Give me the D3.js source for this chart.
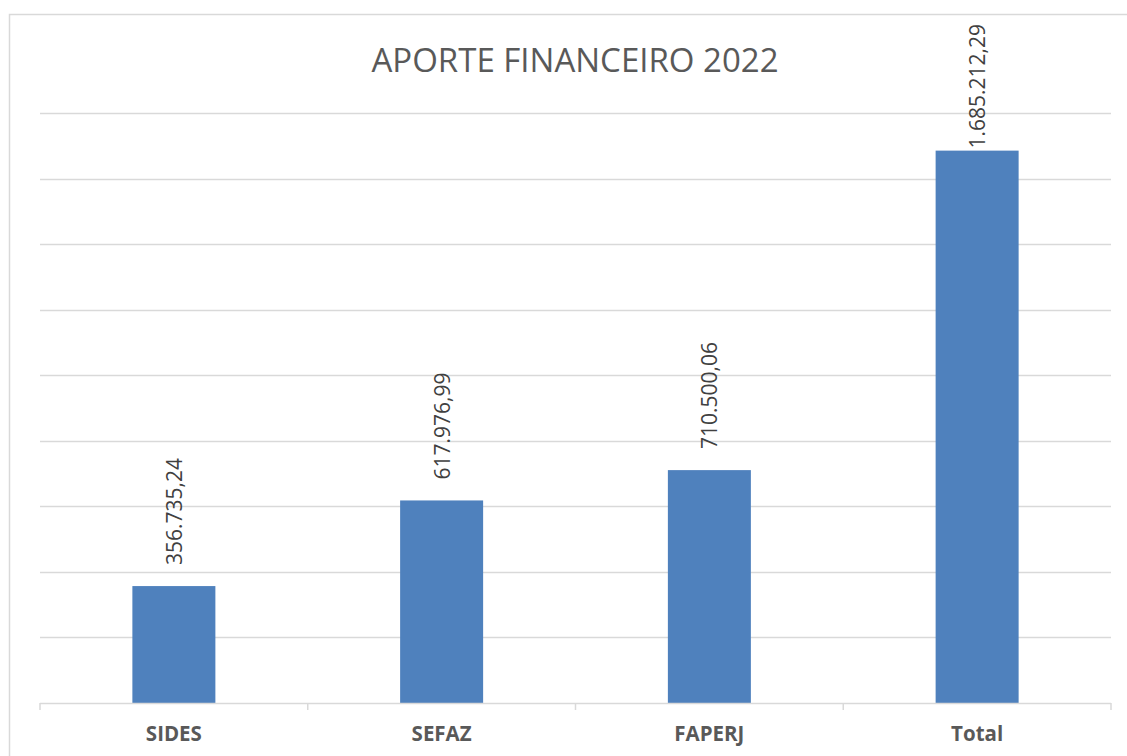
<!DOCTYPE html>
<html lang="pt">
<head>
<meta charset="UTF-8">
<title>Aporte Financeiro 2022</title>
<script src="https://d3js.org/d3.v7.min.js"></script>
<style>
    body { margin: 0; padding: 0; background: #fff; }
    svg { display: block; font-family: 'Open Sans', sans-serif; }
</style>
</head>
<body>
<div id="chart"></div>
<script>
    // data
    const categories = ['SIDES', 'SEFAZ', 'FAPERJ', 'Total'];
    const values = [356735.24, 617976.99, 710500.06, 1685212.29];
    const labels = ['356.735,24', '617.976,99', '710.500,06', '1.685.212,29'];
    const yTicks = [0, 200000, 400000, 600000, 800000, 1000000, 1200000, 1400000, 1600000, 1800000];

    const width = 1127, height = 756;
    const margin = { top: 113, right: 16, bottom: 53, left: 40 };

    const svg = d3.select('#chart').append('svg')
        .attr('width', width)
        .attr('height', height);

    // chart border
    svg.append('rect')
        .attr('x', 9.5).attr('y', 14.5)
        .attr('width', 1140).attr('height', 760)
        .attr('fill', 'none')
        .attr('stroke', '#d9d9d9')
        .attr('stroke-width', 1.5);

    const x = d3.scaleBand()
        .domain(categories)
        .range([margin.left, width - margin.right])
        .paddingInner(0.69)
        .paddingOuter(0.345);

    const y = d3.scaleLinear()
        .domain([0, 1800000])
        .range([height - margin.bottom, margin.top]);

    // gridlines
    svg.append('g')
        .selectAll('line')
        .data(yTicks.slice(1))
        .join('line')
        .attr('x1', margin.left)
        .attr('x2', width - margin.right)
        .attr('y1', d => Math.round(y(d)) + 0.5)
        .attr('y2', d => Math.round(y(d)) + 0.5)
        .attr('stroke', '#d9d9d9')
        .attr('stroke-width', 1.5);

    // bars
    svg.append('g')
        .selectAll('rect')
        .data(values)
        .join('rect')
        .attr('x', (d, i) => x(categories[i]))
        .attr('y', d => y(d))
        .attr('width', x.bandwidth())
        .attr('height', d => y(0) - y(d))
        .attr('fill', '#4f81bd');

    // x axis
    const xAxis = d3.scalePoint().domain(d3.range(categories.length + 1))
        .range([margin.left, width - margin.right]);
    const axisG = svg.append('g');
    axisG.append('line')
        .attr('x1', margin.left).attr('x2', width - margin.right)
        .attr('y1', y(0) + 0.5).attr('y2', y(0) + 0.5)
        .attr('stroke', '#d9d9d9').attr('stroke-width', 1.5);
    axisG.selectAll('line.tick')
        .data(xAxis.domain())
        .join('line')
        .attr('class', 'tick')
        .attr('x1', d => xAxis(d)).attr('x2', d => xAxis(d))
        .attr('y1', y(0)).attr('y2', y(0) + 7)
        .attr('stroke', '#d9d9d9').attr('stroke-width', 1.5);

    svg.append('g')
        .selectAll('text')
        .data(categories)
        .join('text')
        .attr('x', d => x(d) + x.bandwidth() / 2)
        .attr('y', 741)
        .attr('text-anchor', 'middle')
        .attr('fill', '#595959')
        .style('font-size', '20.5px')
        .style('font-weight', 'bold')
        .text(d => d);

    // value labels, rotated
    const valueLabels = svg.append('g')
        .selectAll('text')
        .data(values)
        .join('text')
        .attr('fill', '#404040')
        .style('font-size', '21px')
        .text((d, i) => labels[i]);

    valueLabels.each(function (d, i) {
        const len = this.getComputedTextLength();
        const cx = x(categories[i]) + x.bandwidth() / 2 + 8;
        let base = y(d) - 21;
        if (base - len < 24) base = 24 + len;
        d3.select(this).attr('transform', `translate(${cx},${base}) rotate(-90)`);
    });

    // title
    svg.append('text')
        .attr('x', 575)
        .attr('y', 72)
        .attr('text-anchor', 'middle')
        .attr('fill', '#595959')
        .style('font-size', '33px')
        .text('APORTE FINANCEIRO 2022');
</script>
</body>
</html>
